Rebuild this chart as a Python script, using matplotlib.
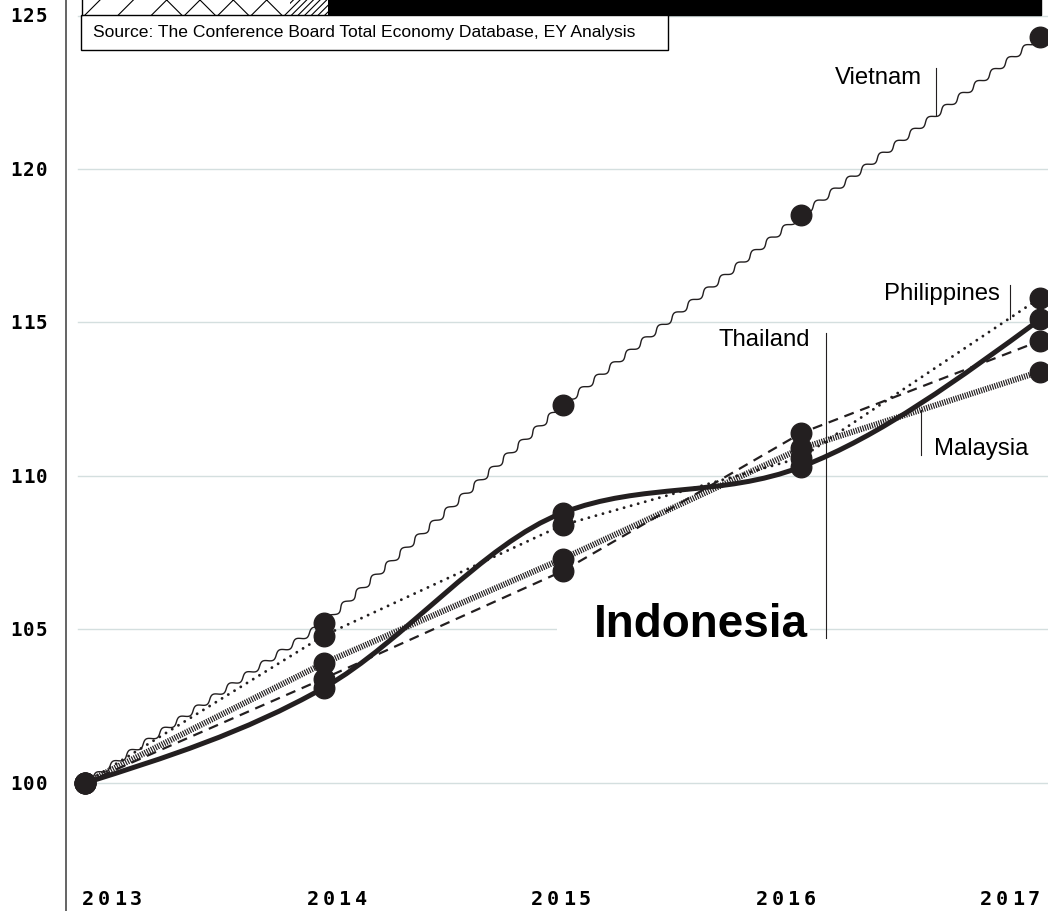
import numpy as np
import matplotlib
matplotlib.use("Agg")
import matplotlib.pyplot as plt
from matplotlib.path import Path
from matplotlib.patches import PathPatch, Rectangle

years = [2013, 2014, 2015, 2016, 2017]
vietnam = [100, 105.2, 112.3, 118.5, 124.3]
philippines = [100, 104.8, 108.4, 110.6, 115.8]
thailand = [100, 103.4, 106.9, 111.4, 114.4]
malaysia = [100, 103.9, 107.3, 110.9, 113.4]
indonesia = [100, 103.1, 108.8, 110.3, 115.1]
y_ticks = [100, 105, 110, 115, 120, 125]
source = "Source: The Conference Board Total Economy Database, EY Analysis"

INK = "#231f20"
W, H = 1048, 911
SANS = "Liberation Sans"
MONO = "DejaVu Sans Mono"


def monotone_path(x, y):
    # d3 curveMonotoneX as cubic beziers
    x = np.asarray(x, float)
    y = np.asarray(y, float)
    h = np.diff(x)
    s = np.diff(y) / h
    t = np.zeros(len(x))
    for i in range(1, len(x) - 1):
        p = (s[i - 1] * h[i] + s[i] * h[i - 1]) / (h[i - 1] + h[i])
        t[i] = (np.sign(s[i - 1]) + np.sign(s[i])) * min(abs(s[i - 1]), abs(s[i]), 0.5 * abs(p))
    t[0] = (3 * s[0] - t[1]) / 2
    t[-1] = (3 * s[-1] - t[-2]) / 2
    verts = [(x[0], y[0])]
    codes = [Path.MOVETO]
    for i in range(len(x) - 1):
        dx = h[i] / 3
        verts += [(x[i] + dx, y[i] + dx * t[i]),
                  (x[i + 1] - dx, y[i + 1] - dx * t[i + 1]),
                  (x[i + 1], y[i + 1])]
        codes += [Path.CURVE4] * 3
    return Path(verts, codes)


def spaced(ax, s, xy, coords, size, gap, ha, dx=0, dy=0):
    # monospace text with extra letter spacing
    adv = 0.602 * size
    width = len(s) * adv + (len(s) - 1) * gap
    start = {"left": 0, "center": -width / 2, "right": -width}[ha]
    for i, ch in enumerate(s):
        ax.annotate(ch, xy, xycoords=coords,
                    xytext=(dx + start + i * (adv + gap) + adv / 2, dy),
                    textcoords="offset points", ha="center", va="baseline",
                    fontsize=size, family=MONO, fontweight="bold",
                    color="black", annotation_clip=False)


fig = plt.figure(figsize=(W / 100, H / 100), dpi=100)
ax = fig.add_axes([66 / W, 0, 982 / W, 1])
ax.set_xlim(2012.9204, 2017.0335)
ax.set_ylim(95.83, 125.505)
for side in ["top", "right", "bottom"]:
    ax.spines[side].set_visible(False)
ax.spines["left"].set_color("#3a3a3a")
ax.spines["left"].set_linewidth(1.1)
ax.set_xticks([])
ax.set_yticks([])

for v in y_ticks:
    ax.axhline(v, xmin=12 / 982, color="#d4dfdf", lw=1, zorder=0)
    spaced(ax, str(v), (0, v), ax.get_yaxis_transform(), 13.8, 0.9, "right", dx=-13.5, dy=-5)

# x labels spread edge to edge
starts = np.linspace(82, 980, len(years))
for st, yr in zip(starts, years):
    spaced(ax, str(yr), (st, 6), "figure pixels", 14.5, 2.8, "left")

# lines
vn, = ax.plot(years, vietnam, color=INK, lw=1.0, zorder=3)
vn.set_sketch_params(scale=2.6, length=20, randomness=1.0)
ax.plot(years, philippines, color=INK, lw=2.1, linestyle=(0, (0.01, 2.5)),
        dash_capstyle="round", zorder=3)
ax.plot(years, thailand, color=INK, lw=1.6, linestyle=(0, (4.5, 3.1)), zorder=3)
ax.plot(years, malaysia, color=INK, lw=4.3, linestyle=(0, (0.2, 0.2)),
        dash_capstyle="butt", zorder=3)
ax.add_patch(PathPatch(monotone_path(years, indonesia), fill=False, ec=INK,
                       lw=3.6, capstyle="round", joinstyle="round", zorder=4))

for series in [vietnam, philippines, thailand, malaysia, indonesia]:
    ax.plot(years, series, linestyle="none", marker="o", ms=14.8,
            color=INK, zorder=6, clip_on=False)

# labels and leaders
lab = dict(fontsize=17.2, family=SANS, color="black", va="baseline", zorder=7)
ax.text(2016.506, 122.77, "Vietnam", ha="right", **lab)
ax.plot([2016.564, 2016.564], [123.29, 121.76], color=INK, lw=0.8, zorder=7)
ax.text(2016.833, 115.73, "Philippines", ha="right", **lab)
ax.plot([2016.874, 2016.874], [116.22, 115.10], color=INK, lw=0.8, zorder=7)
ax.text(2016.037, 114.23, "Thailand", ha="right", **lab)
ax.plot([2016.104, 2016.104], [114.66, 104.72], color=INK, lw=0.8, zorder=7)
ax.text(2016.556, 110.68, "Malaysia", ha="left", **lab)
ax.plot([2016.50, 2016.50], [112.15, 110.68], color=INK, lw=0.8, zorder=7)

ax.add_patch(Rectangle((2014.977, 104.75), 1.06, 1.45, fc="white", ec="none", zorder=1))
ax.text(2015.132, 104.76, "Indonesia", fontsize=33, family=SANS, fontweight="bold",
        color="black", ha="left", va="baseline", zorder=7)

# header strip and source box (figure pixels)
def fig_rect(x0, y0, x1, y1, **kw):
    r = Rectangle((x0 / W, 1 - y1 / H), (x1 - x0) / W, (y1 - y0) / H,
                  transform=fig.transFigure, **kw)
    fig.add_artist(r)

plt.rcParams["hatch.linewidth"] = 0.8
fig_rect(328, -2, 1041, 15, fc="black", ec="black", lw=1, zorder=10)
fig_rect(82, -2, 165, 15, fc="white", ec="black", lw=0, hatch="/", zorder=10)
fig_rect(165, -2, 290, 15, fc="white", ec="black", lw=0, hatch="x", zorder=10)
fig_rect(290, -2, 328, 15, fc="white", ec="black", lw=0, hatch="/////", zorder=10)
fig_rect(81, 15, 668, 50, fc="white", ec="black", lw=1, zorder=10)
fig.add_artist(plt.Line2D([82 / W, 82 / W], [1, 1 - 15 / H], color="black", lw=1,
                          transform=fig.transFigure, zorder=11))
fig.text(93 / W, 1 - 33 / H, source, fontsize=12.6, family=SANS, color="black",
         va="center", ha="left", zorder=12)

fig.savefig("out.png", dpi=100)
